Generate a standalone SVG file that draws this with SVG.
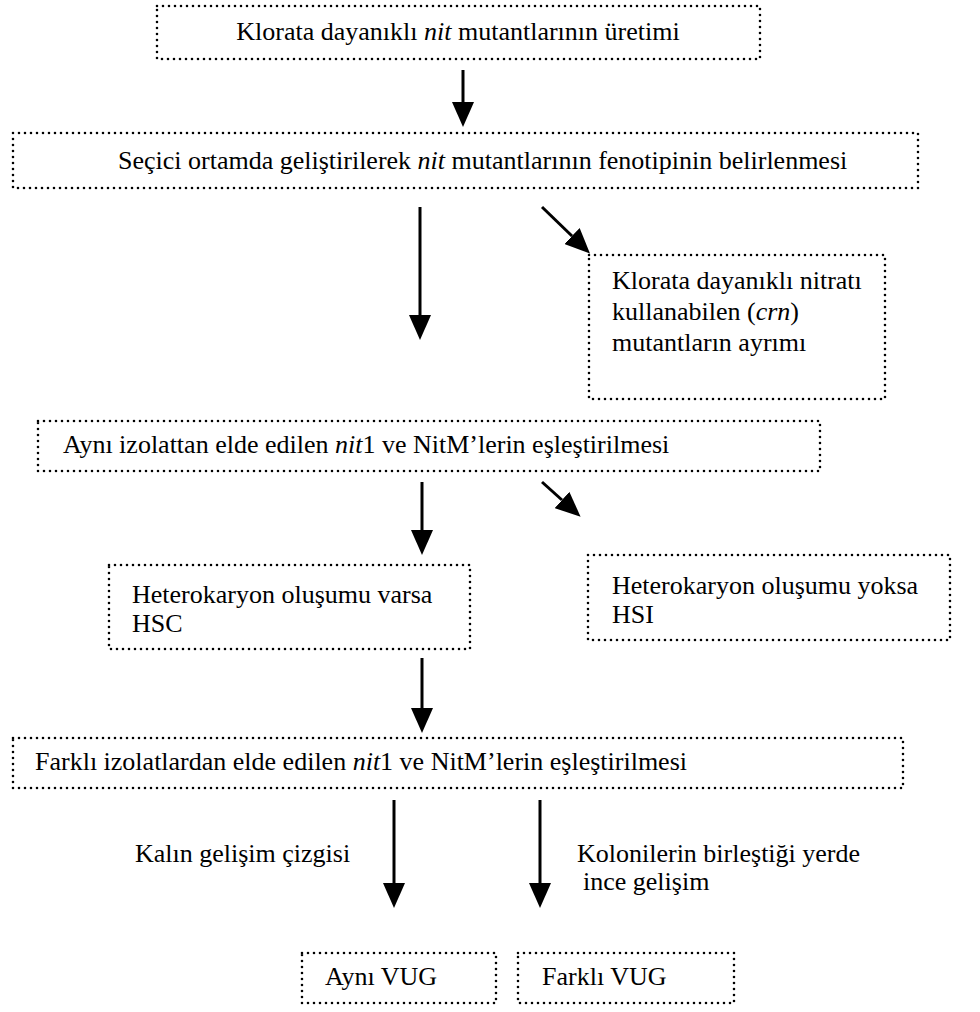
<svg xmlns="http://www.w3.org/2000/svg" width="980" height="1012" viewBox="0 0 980 1012">
<style>
.box{fill:none;stroke:#000;stroke-width:2.6;stroke-dasharray:0 6;stroke-linecap:round}
.t{font-family:'Liberation Serif','Times New Roman',Times,'DejaVu Serif','Noto Serif',serif;font-size:26px;fill:#000}
.i{font-style:italic}
.ln{stroke:#000;stroke-width:3;fill:none}
</style>
<defs>
<marker id="ah" markerUnits="userSpaceOnUse" markerWidth="25" markerHeight="22" viewBox="0 0 25 22" refX="0" refY="11" orient="auto">
<path d="M0,0 L25,11 L0,22 z" fill="#000"/>
</marker>
</defs>
<rect width="980" height="1012" fill="#fff"/>
<g id="connectors">
<line class="ln" x1="463" y1="70" x2="463" y2="102" marker-end="url(#ah)"/>
<line class="ln" x1="420" y1="207" x2="420" y2="315" marker-end="url(#ah)"/>
<line class="ln" x1="542" y1="207" x2="572" y2="236" marker-end="url(#ah)"/>
<line class="ln" x1="422" y1="482" x2="422" y2="530" marker-end="url(#ah)"/>
<line class="ln" x1="542" y1="482" x2="562" y2="500" marker-end="url(#ah)"/>
<line class="ln" x1="422" y1="658" x2="422" y2="708" marker-end="url(#ah)"/>
<line class="ln" x1="394" y1="800" x2="394" y2="883" marker-end="url(#ah)"/>
<line class="ln" x1="540" y1="800" x2="540" y2="883" marker-end="url(#ah)"/>
</g>
<g id="n1">
<rect class="box" x="157" y="6" width="603" height="53"/>
<text class="t" x="458" y="40" text-anchor="middle">Klorata dayanıklı <tspan class="i">nit</tspan> mutantlarının üretimi</text>
</g>
<g id="n2">
<rect class="box" x="13" y="133" width="905" height="55"/>
<text class="t" x="118" y="169">Seçici ortamda geliştirilerek <tspan class="i">nit</tspan> mutantlarının fenotipinin belirlenmesi</text>
</g>
<g id="n3">
<rect class="box" x="589" y="255" width="296" height="144"/>
<text class="t" x="612" y="289">Klorata dayanıklı nitratı</text>
<text class="t" x="612" y="320">kullanabilen (<tspan class="i">crn</tspan>)</text>
<text class="t" x="612" y="351">mutantların ayrımı</text>
</g>
<g id="n4">
<rect class="box" x="38" y="421" width="782" height="50"/>
<text class="t" x="63" y="453">Aynı izolattan elde edilen <tspan class="i">nit</tspan>1 ve NitM’lerin eşleştirilmesi</text>
</g>
<g id="n5">
<rect class="box" x="109" y="565" width="361" height="84"/>
<text class="t" x="132" y="603">Heterokaryon oluşumu varsa</text>
<text class="t" x="132" y="632">HSC</text>
</g>
<g id="n6">
<rect class="box" x="588" y="555" width="362" height="85"/>
<text class="t" x="612" y="594">Heterokaryon oluşumu yoksa</text>
<text class="t" x="612" y="623">HSI</text>
</g>
<g id="n7">
<rect class="box" x="13" y="738" width="890" height="50"/>
<text class="t" x="35" y="770">Farklı izolatlardan elde edilen <tspan class="i">nit</tspan>1 ve NitM’lerin eşleştirilmesi</text>
</g>
<g id="labels">
<text class="t" x="135" y="862">Kalın gelişim çizgisi</text>
<text class="t" x="577" y="862">Kolonilerin birleştiği yerde</text>
<text class="t" x="583" y="890">ince gelişim</text>
</g>
<g id="n8">
<rect class="box" x="302" y="953" width="194" height="50"/>
<text class="t" x="325" y="985">Aynı VUG</text>
</g>
<g id="n9">
<rect class="box" x="518" y="953" width="216" height="50"/>
<text class="t" x="542" y="985">Farklı VUG</text>
</g>
</svg>
